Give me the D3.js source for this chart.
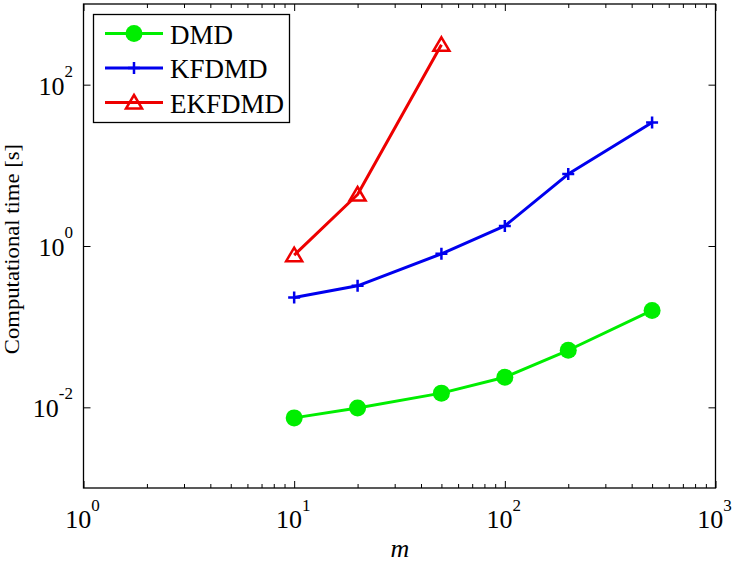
<!DOCTYPE html>
<html><head><meta charset="utf-8">
<script src="https://cdn.jsdelivr.net/npm/d3@7"></script>
<style>body{margin:0;background:#fff} text{font-family:"Liberation Serif","DejaVu Serif","Times New Roman",serif;}</style>
</head><body>
<svg id="c" width="735" height="563" xmlns="http://www.w3.org/2000/svg"></svg>
<script>
// ---- data ----
const mValues = [10, 20, 50, 100, 200, 500];
const seriesNames = ["DMD", "KFDMD", "EKFDMD"];
const dmdTime = [0.0074, 0.0098, 0.0150, 0.0236, 0.051, 0.159];
const kfdmdTime = [0.230, 0.321, 0.80, 1.77, 7.8, 34];
const ekfdmdTime = [0.77, 4.35, 312];
const xTickValues = [1, 10, 100, 1000];
const xTickExponents = ["0", "1", "2", "3"];
const yTickValues = [0.01, 1, 100];
const yTickExponents = ["-2", "0", "2"];
const xLabel = "m";
const yLabel = "Computational time [s]";

// ---- layout ----
const L = 83.5, R = 715.5, T = 4, B = 488;
const svg = d3.select("#c");
const x = d3.scaleLog().domain([1, 1000]).range([L, R]);
const y = d3.scaleLog().domain([1e-3, 1e3]).range([B, T]);

const colors = {DMD: "#00ee00", KFDMD: "#0000ee", EKFDMD: "#ee0000"};
const series = [
  {name: seriesNames[0], vals: dmdTime, marker: "circle"},
  {name: seriesNames[1], vals: kfdmdTime, marker: "plus"},
  {name: seriesNames[2], vals: ekfdmdTime, marker: "triangle"}
];

// minor x ticks
const xMinor = [];
for (let d = 1; d < 1000; d *= 10) for (let k = 2; k <= 9; k++) xMinor.push(d * k);

function styleAxis(g) {
  g.select(".domain").remove();
  g.selectAll("line").attr("stroke", "#000").attr("stroke-width", 1);
}
svg.append("g").attr("transform", `translate(0,${B})`)
  .call(d3.axisTop(x).tickValues(xTickValues).tickSize(7).tickFormat(""))
  .call(styleAxis);
svg.append("g").attr("transform", `translate(0,${B})`)
  .call(d3.axisTop(x).tickValues(xMinor).tickSize(4).tickFormat(""))
  .call(styleAxis);
svg.append("g").attr("transform", `translate(0,${T})`)
  .call(d3.axisBottom(x).tickValues(xTickValues).tickSize(7).tickFormat(""))
  .call(styleAxis);
svg.append("g").attr("transform", `translate(0,${T})`)
  .call(d3.axisBottom(x).tickValues(xMinor).tickSize(4).tickFormat(""))
  .call(styleAxis);
svg.append("g").attr("transform", `translate(${L},0)`)
  .call(d3.axisRight(y).tickValues(yTickValues).tickSize(7).tickFormat(""))
  .call(styleAxis);
svg.append("g").attr("transform", `translate(${R},0)`)
  .call(d3.axisLeft(y).tickValues(yTickValues).tickSize(7).tickFormat(""))
  .call(styleAxis);

svg.append("rect").attr("x", L).attr("y", T).attr("width", R - L).attr("height", B - T)
  .attr("fill", "none").attr("stroke", "#000").attr("stroke-width", 1.3);

// x tick labels
xTickValues.forEach((v, i) => {
  const t = svg.append("text").attr("x", x(v) - 1).attr("y", 528)
    .attr("text-anchor", "middle").attr("font-size", 26);
  t.append("tspan").text("10");
  t.append("tspan").attr("font-size", 17).attr("dy", -17).text(xTickExponents[i]);
});
// y tick labels
yTickValues.forEach((v, i) => {
  const t = svg.append("text").attr("x", 73).attr("y", y(v) + 10)
    .attr("text-anchor", "end").attr("font-size", 26);
  t.append("tspan").text("10");
  t.append("tspan").attr("font-size", 17).attr("dy", -18).text(yTickExponents[i]);
});

// axis labels
svg.append("text").attr("x", 400).attr("y", 557).attr("text-anchor", "middle")
  .attr("font-style", "italic").attr("font-size", 26).text(xLabel);
svg.append("text").attr("transform", `translate(19,${(T + B) / 2 + 3}) rotate(-90) scale(1.08,1)`)
  .attr("text-anchor", "middle").attr("font-size", 21).text(yLabel);

function drawMarker(g, type, cx, cy, color) {
  if (type === "circle") {
    g.append("circle").attr("cx", cx).attr("cy", cy).attr("r", 8.5).attr("fill", color);
  } else if (type === "plus") {
    g.append("path").attr("d", `M${cx - 6},${cy}H${cx + 6}M${cx},${cy - 6}V${cy + 6}`)
      .attr("stroke", color).attr("stroke-width", 2.5).attr("fill", "none");
  } else {
    g.append("path").attr("d", `M${cx},${cy - 7.5}L${cx + 8},${cy + 6}L${cx - 8},${cy + 6}Z`)
      .attr("stroke", color).attr("stroke-width", 2.5).attr("fill", "none");
  }
}

const line = d3.line().x(d => x(d[0])).y(d => y(d[1]));
series.forEach(s => {
  const pts = s.vals.map((v, i) => [mValues[i], v]);
  const g = svg.append("g");
  g.append("path").attr("d", line(pts)).attr("fill", "none")
    .attr("stroke", colors[s.name]).attr("stroke-width", 3).attr("stroke-linejoin", "round");
  pts.forEach(p => drawMarker(g, s.marker, x(p[0]), y(p[1]), colors[s.name]));
});

// legend
const lg = svg.append("g");
lg.append("rect").attr("x", 93.5).attr("y", 14.5).attr("width", 196).attr("height", 108)
  .attr("fill", "#fff").attr("stroke", "#000").attr("stroke-width", 1.3);
series.forEach((s, i) => {
  const ly = 33.5 + i * 34.5;
  lg.append("line").attr("x1", 105).attr("x2", 163).attr("y1", ly).attr("y2", ly)
    .attr("stroke", colors[s.name]).attr("stroke-width", 3);
  drawMarker(lg, s.marker, 134, ly, colors[s.name]);
  lg.append("text").attr("x", 170).attr("y", ly + 10)
    .attr("font-size", 27).text(s.name);
});
</script>
</body></html>
